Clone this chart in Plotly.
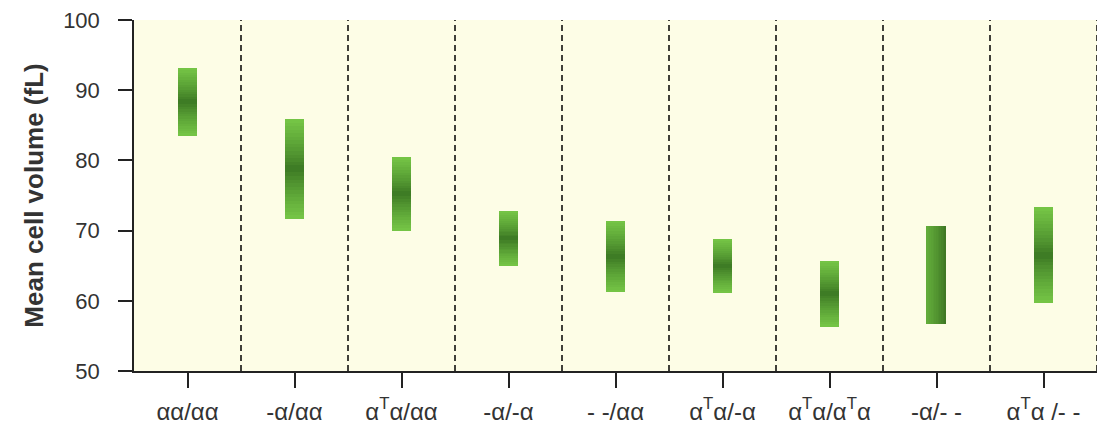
import plotly.graph_objects as go

# Genotype groups and their mean cell volume ranges (fL)
genotypes = [
    "αα/αα", "-α/αα", "α<sup>T</sup>α/αα", "-α/-α", "- -/αα",
    "α<sup>T</sup>α/-α", "α<sup>T</sup>α/α<sup>T</sup>α", "-α/- -", "α<sup>T</sup>α /- -",
]
mcv_low = [83.5, 71.7, 70.0, 65.0, 61.2, 61.2, 56.3, 56.7, 59.7]
mcv_high = [93.2, 85.9, 80.5, 72.8, 71.4, 68.8, 65.7, 70.6, 73.3]

y_ticks = [50, 60, 70, 80, 90, 100]

BAR_W = 0.185
N_V = 28          # vertical shading slices
N_H = 12          # horizontal shading slices
SIDE_SHADED = {7}  # group drawn with a left-to-right shade

LIGHT = (118, 198, 70)
DARK = (58, 118, 34)
H_LEFT = (98, 172, 58)
H_RIGHT = (62, 118, 36)


def mix(a, b, t):
    return "rgb({},{},{})".format(*[round(a[i] + (b[i] - a[i]) * t) for i in range(3)])


fig = go.Figure()

# Vertically shaded range bars: dark at the mid value, lighter toward both ends
idx_v = [i for i in range(len(genotypes)) if i not in SIDE_SHADED]
for k in range(N_V):
    xs, bases, hs, cols = [], [], [], []
    t = abs((k + 0.5) / N_V - 0.5) * 2
    for i in idx_v:
        h = (mcv_high[i] - mcv_low[i]) / N_V
        xs.append(i)
        bases.append(mcv_low[i] + k * h)
        hs.append(h * 1.02)
        cols.append(mix(DARK, LIGHT, t ** 0.8))
    fig.add_trace(go.Bar(
        x=xs, y=hs, base=bases, width=BAR_W,
        marker=dict(color=cols, line=dict(width=0)),
        hoverinfo="skip", showlegend=False,
    ))

# Horizontally shaded range bar
for i in SIDE_SHADED:
    for j in range(N_H):
        t = (j + 0.5) / N_H
        fig.add_trace(go.Bar(
            x=[i], y=[mcv_high[i] - mcv_low[i]], base=[mcv_low[i]],
            width=BAR_W / N_H * 1.05, offset=-BAR_W / 2 + j * BAR_W / N_H,
            marker=dict(color=mix(H_LEFT, H_RIGHT, t ** 1.3), line=dict(width=0)),
            hoverinfo="skip", showlegend=False,
        ))

# Dashed separators between genotype groups
for i in range(len(genotypes)):
    fig.add_shape(
        type="line", xref="x", yref="y",
        x0=i + 0.5, x1=i + 0.5, y0=y_ticks[0], y1=y_ticks[-1],
        line=dict(color="#000000", width=1.5, dash="6px,4px"),
        layer="above",
    )

font_main = "Liberation Sans, Arial, sans-serif"

fig.update_layout(
    width=1106, height=426,
    margin=dict(l=134, r=9, t=20, b=55),
    paper_bgcolor="white",
    plot_bgcolor="#fdfde6",
    barmode="overlay",
    bargap=0,
    font=dict(family=font_main, color="#333333", size=22),
    xaxis=dict(
        range=[-0.5, len(genotypes) - 0.5],
        tickmode="array",
        tickvals=list(range(len(genotypes))),
        ticktext=genotypes,
        ticks="outside", ticklen=15, tickwidth=1.5, tickcolor="#222222",
        showline=True, linecolor="#222222", linewidth=1.5,
        showgrid=False, zeroline=False,
        tickfont=dict(size=24),
        ticklabelstandoff=3,
        automargin=False,
        fixedrange=True,
    ),
    yaxis=dict(
        range=[y_ticks[0], y_ticks[-1]],
        tickmode="array",
        tickvals=y_ticks,
        ticks="outside", ticklen=14, tickwidth=1.5, tickcolor="#222222",
        showline=True, linecolor="#222222", linewidth=1.5,
        showgrid=False, zeroline=False,
        tickfont=dict(size=22),
        ticklabelstandoff=14,
        automargin=False,
        title=dict(text="<b>Mean cell volume (fL)</b>", font=dict(size=26), standoff=12),
        fixedrange=True,
    ),
)

fig.write_html("out.html")
